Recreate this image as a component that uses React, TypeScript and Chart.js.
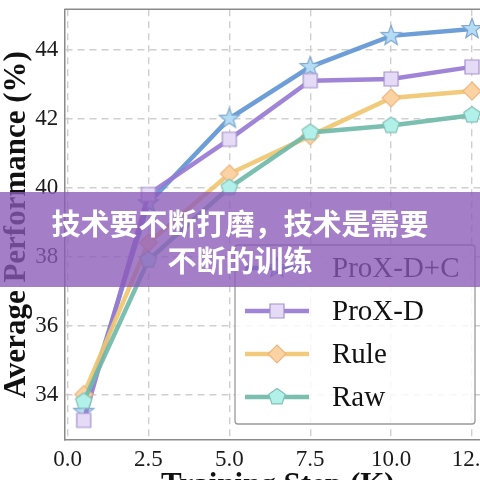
import React, { useEffect, useRef } from "react";
import { Chart, registerables } from "chart.js";

Chart.register(...registerables);

// ---- data ----
const steps = [0.5, 2.5, 5.0, 7.5, 10.0, 12.5];
const seriesNames = ["ProX-D+C", "ProX-D", "Rule", "Raw"];
const proxDC = [33.5, 39.55, 42.0, 43.5, 44.4, 44.6];
const proxD = [33.25, 39.8, 41.4, 43.1, 43.15, 43.5];
const rule = [34.0, 38.4, 40.4, 41.5, 42.6, 42.8];
const raw = [33.8, 37.9, 40.0, 41.6, 41.8, 42.1];
const xTicks = [0, 2.5, 5, 7.5, 10, 12.5];
const yTicks = [34, 36, 38, 40, 42, 44];
const xTitle = "Training Step (K)";
const yTitle = "Average Performance (%)";
const bannerLines = ["技术要不断打磨，技术是需要", "不断的训练"];

const lineColors = [
  "rgba(98,150,212,0.92)",
  "rgba(152,122,212,0.92)",
  "rgba(240,198,112,0.92)",
  "rgba(112,186,170,0.92)",
];
const markerFills = ["#b4dcf4", "#e6dbf7", "#fbd2a2", "#b2f0ea"];
const markerEdges = ["#7fa6d0", "#a592cc", "#eeb67e", "#82c0b6"];
const markerShapes = ["star", "square", "diamond", "pentagon"];

const SERIF = '"Liberation Serif", "Times New Roman", serif';

function makeMarker(shape: string, fill: string, stroke: string) {
  const s = 26;
  const c = document.createElement("canvas");
  c.width = s;
  c.height = s;
  const g = c.getContext("2d")!;
  g.translate(s / 2, s / 2);
  g.beginPath();
  if (shape === "star") {
    for (let i = 0; i < 10; i++) {
      const r = i % 2 ? 4.4 : 10.5;
      const a = -Math.PI / 2 + (i * Math.PI) / 5;
      const px = r * Math.cos(a);
      const py = r * Math.sin(a);
      if (i === 0) g.moveTo(px, py);
      else g.lineTo(px, py);
    }
  } else if (shape === "square") {
    g.rect(-7, -7, 14, 14);
  } else if (shape === "diamond") {
    g.moveTo(0, -9);
    g.lineTo(9, 0);
    g.lineTo(0, 9);
    g.lineTo(-9, 0);
  } else {
    for (let i = 0; i < 5; i++) {
      const a = -Math.PI / 2 + (i * 2 * Math.PI) / 5;
      const px = 8.6 * Math.cos(a);
      const py = 8.6 * Math.sin(a);
      if (i === 0) g.moveTo(px, py);
      else g.lineTo(px, py);
    }
  }
  g.closePath();
  g.fillStyle = fill;
  g.fill();
  g.lineWidth = 1.2;
  g.strokeStyle = stroke;
  g.stroke();
  return c;
}

export default function App() {
  const ref = useRef<HTMLCanvasElement>(null);

  useEffect(() => {
    if (!ref.current) return;
    const markers = markerShapes.map((s, i) => makeMarker(s, markerFills[i], markerEdges[i]));
    const values = [proxDC, proxD, rule, raw];

    const framePlugin = {
      id: "frameAndLegend",
      beforeDatasetsDraw(chart: any) {
        const { ctx, chartArea } = chart;
        ctx.save();
        ctx.strokeStyle = "#8a8a8a";
        ctx.lineWidth = 1.5;
        ctx.beginPath();
        ctx.moveTo(chartArea.left, chartArea.top);
        ctx.lineTo(chartArea.right, chartArea.top);
        ctx.stroke();
        ctx.restore();
      },
      afterDraw(chart: any) {
        const { ctx } = chart;
        ctx.save();
        // legend box
        const bx = 235, by = 245, bw = 240, bh = 179, rr = 3;
        ctx.beginPath();
        ctx.moveTo(bx + rr, by);
        ctx.lineTo(bx + bw - rr, by);
        ctx.quadraticCurveTo(bx + bw, by, bx + bw, by + rr);
        ctx.lineTo(bx + bw, by + bh - rr);
        ctx.quadraticCurveTo(bx + bw, by + bh, bx + bw - rr, by + bh);
        ctx.lineTo(bx + rr, by + bh);
        ctx.quadraticCurveTo(bx, by + bh, bx, by + bh - rr);
        ctx.lineTo(bx, by + rr);
        ctx.quadraticCurveTo(bx, by, bx + rr, by);
        ctx.closePath();
        ctx.fillStyle = "rgba(255,255,255,0.82)";
        ctx.fill();
        ctx.strokeStyle = "#9a9a9a";
        ctx.lineWidth = 1.3;
        ctx.stroke();
        const rows = [268, 311, 354, 397];
        seriesNames.forEach((name, i) => {
          const y = rows[i];
          ctx.strokeStyle = lineColors[i];
          ctx.lineWidth = 4.5;
          ctx.beginPath();
          ctx.moveTo(245, y);
          ctx.lineTo(309, y);
          ctx.stroke();
          const m = markers[i];
          ctx.drawImage(m, 277 - m.width / 2, y - m.height / 2);
          ctx.fillStyle = "#111";
          ctx.font = `29px ${SERIF}`;
          ctx.textAlign = "left";
          ctx.textBaseline = "middle";
          ctx.fillText(name, 332, y + 1);
        });
        ctx.restore();
      },
    };

    const chart = new Chart(ref.current, {
      type: "line",
      data: {
        datasets: seriesNames.map((name, i) => ({
          label: name,
          data: steps.map((x, k) => ({ x, y: values[i][k] })),
          borderColor: lineColors[i],
          backgroundColor: markerFills[i],
          borderWidth: 4.5,
          pointStyle: markers[i] as any,
          pointRadius: 9,
          tension: 0,
          order: 3 - i,
          clip: false as any,
        })),
      },
      options: {
        responsive: false,
        animation: false,
        devicePixelRatio: 1,
        layout: { autoPadding: false, padding: { left: 0, top: 9.3, right: 8.6, bottom: 0 } },
        plugins: {
          legend: { display: false },
          tooltip: { enabled: false },
        },
        scales: {
          x: {
            type: "linear",
            min: -0.1,
            max: 13.1,
            afterBuildTicks: (s: any) => {
              s.ticks = xTicks.map((v) => ({ value: v }));
            },
            afterFit: (s: any) => {
              s.height = 60;
              s.paddingLeft = 0;
              s.paddingRight = 0;
            },
            ticks: {
              callback: (v: any) => Number(v).toFixed(1),
              font: { family: SERIF, size: 23 },
              color: "#1a1a1a",
              padding: 6,
              maxRotation: 0,
            },
            grid: { color: "#cfcfcf", lineWidth: 1.4, drawTicks: false },
            border: { display: true, color: "#8a8a8a", width: 1.5, dash: [7, 5] },
            title: {
              display: true,
              text: xTitle,
              font: { family: SERIF, size: 31, weight: "bold", lineHeight: 0.8 },
              color: "#111",
              padding: { top: 0, bottom: 2 },
            },
          },
          y: {
            type: "linear",
            min: 32.68,
            max: 45.17,
            afterBuildTicks: (s: any) => {
              s.ticks = yTicks.map((v) => ({ value: v }));
            },
            afterFit: (s: any) => {
              s.width = 64.3;
              s.paddingTop = 0;
              s.paddingBottom = 0;
            },
            ticks: {
              callback: (v: any) => String(v),
              font: { family: SERIF, size: 23 },
              color: "#1a1a1a",
              padding: 6,
            },
            grid: { color: "#cfcfcf", lineWidth: 1.4, drawTicks: false },
            border: { display: true, color: "#8a8a8a", width: 1.5, dash: [7, 5] },
            title: {
              display: true,
              text: yTitle,
              font: { family: SERIF, size: 31, weight: "bold", lineHeight: 1 },
              color: "#111",
              padding: { top: 1, bottom: 0 },
            },
          },
        },
      },
      plugins: [framePlugin],
    });
    return () => chart.destroy();
  }, []);

  return (
    <div
      style={{
        position: "fixed",
        left: 0,
        top: 0,
        width: 480,
        height: 480,
        overflow: "hidden",
        background: "#fff",
      }}
    >
      <canvas ref={ref} width={500} height={500} style={{ display: "block", width: 500, height: 500 }} />
      <div
        style={{
          position: "absolute",
          left: 0,
          top: 192,
          width: 480,
          height: 95,
          boxSizing: "border-box",
          paddingTop: 12,
          background: "rgba(140,90,185,0.78)",
          color: "#fff",
          fontFamily: '"Noto Sans CJK SC", sans-serif',
          fontWeight: 700,
          fontSize: 29,
          lineHeight: "37px",
          textAlign: "center",
          whiteSpace: "nowrap",
        }}
      >
        {bannerLines.map((l, i) => (
          <div key={i}>{l}</div>
        ))}
      </div>
    </div>
  );
}
